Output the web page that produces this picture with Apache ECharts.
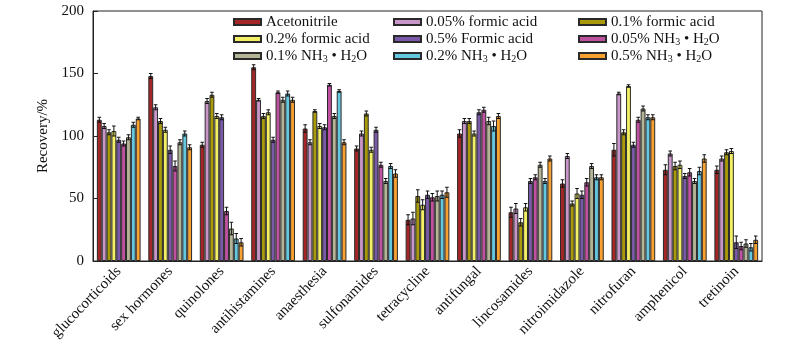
<!DOCTYPE html>
<html>
<head>
<meta charset="utf-8">
<script src="https://cdn.jsdelivr.net/npm/echarts@6/dist/echarts.min.js"></script>
<style>
  html, body { margin: 0; padding: 0; background: #fff; }
  #box { width: 800px; height: 351px; }
</style>
</head>
<body>
<div id="box"></div>
<script>
// categories on the x axis
var categories = ["glucocorticoids", "sex hormones", "quinolones", "antihistamines", "anaesthesia",
  "sulfonamides", "tetracycline", "antifungal", "lincosamides", "nitroimidazole", "nitrofuran",
  "amphenicol", "tretinoin"];

var seriesNames = ["Acetonitrile", "0.05% formic acid", "0.1% formic acid", "0.2% formic acid",
  "0.5% Formic acid", "0.05% NH3 • H2O", "0.1% NH3 • H2O", "0.2% NH3 • H2O", "0.5% NH3 • H2O"];

// recovery values (%)
var acetonitrile = [113, 148, 93, 155, 106, 90, 33, 102, 39, 62, 89, 73, 73];
var formic005 = [108, 123, 128, 129, 95, 102, 34, 112, 42, 84, 134, 86, 82];
var formic01 = [103, 112, 133, 116, 120, 118, 52, 112, 31, 46, 103, 76, 87];
var formic02 = [104, 105, 116, 119, 108, 89, 45, 102, 43, 54, 140, 77, 88];
var formic05 = [97, 89, 115, 97, 107, 105, 53, 119, 64, 53, 93, 68, 15];
var nh3005 = [94, 76, 40, 135, 141, 77, 51, 121, 67, 63, 113, 71, 12];
var nh301 = [99, 95, 26, 129, 116, 64, 52, 112, 77, 76, 122, 64, 14];
var nh302 = [109, 102, 18, 134, 136, 76, 53, 108, 64, 67, 115, 72, 11];
var nh305 = [114, 91, 15, 129, 95, 70, 55, 116, 82, 67, 115, 82, 17];

// error bars (+/-)
var errAcetonitrile = [2, 2, 2, 2, 3, 2, 4, 3, 4, 3, 5, 4, 3];
var errFormic005 = [2, 2, 2, 1, 2, 2, 5, 2, 4, 2, 1, 2, 2];
var errFormic01 = [2, 2, 2, 2, 1, 2, 5, 2, 3, 2, 2, 3, 2];
var errFormic02 = [4, 2, 2, 2, 2, 2, 4, 2, 3, 4, 1, 3, 2];
var errFormic05 = [2, 3, 2, 2, 2, 2, 3, 2, 2, 3, 2, 2, 5];
var errNh3005 = [2, 4, 3, 1, 1, 2, 3, 2, 2, 3, 2, 3, 3];
var errNh301 = [2, 2, 5, 2, 2, 2, 4, 3, 2, 2, 2, 2, 3];
var errNh302 = [2, 2, 4, 2, 1, 2, 3, 4, 2, 2, 2, 3, 3];
var errNh305 = [1, 2, 3, 2, 2, 3, 4, 2, 2, 2, 2, 3, 3];

var yTicks = [0, 50, 100, 150, 200];

var values = [acetonitrile, formic005, formic01, formic02, formic05, nh3005, nh301, nh302, nh305];
var errors = [errAcetonitrile, errFormic005, errFormic01, errFormic02, errFormic05, errNh3005, errNh301, errNh302, errNh305];
var colors = ["#a52626", "#c896c8", "#a89a0a", "#f4f066", "#7a5aa8", "#c050a0", "#b4b496", "#64c8e0", "#f8a030"];

var font = "Liberation Serif";
var gapRatio = 0.15;

var chart = echarts.init(document.getElementById("box"));

var barSeries = seriesNames.map(function (name, i) {
  return {
    name: name,
    type: "bar",
    data: values[i],
    barGap: 0,
    barCategoryGap: gapRatio * 100 + "%",
    itemStyle: { color: colors[i], borderColor: "#2a2a2a", borderWidth: 1 },
    z: 2
  };
});

// error bar rows: [category, value, error, seriesIndex]
var errRows = [];
values.forEach(function (arr, si) {
  arr.forEach(function (v, ci) {
    errRows.push([ci, v, errors[si][ci], si]);
  });
});

var errSeries = {
  type: "custom",
  name: "err",
  data: errRows,
  encode: { x: 0, y: 1 },
  z: 5,
  silent: true,
  renderItem: function (params, api) {
    var ci = api.value(0), v = api.value(1), e = api.value(2), si = api.value(3);
    var center = api.coord([ci, v]);
    var band = api.size([1, 0])[0];
    var groupW = band * (1 - gapRatio);
    var bw = groupW / seriesNames.length;
    var x = center[0] - groupW / 2 + (si + 0.5) * bw;
    var yt = api.coord([ci, v + e])[1];
    var yb = api.coord([ci, v - e])[1];
    var cap = 1.8;
    var st = { stroke: "#111", lineWidth: 1 };
    return {
      type: "group",
      children: [
        { type: "line", shape: { x1: x, y1: yt, x2: x, y2: yb }, style: st },
        { type: "line", shape: { x1: x - cap, y1: yt, x2: x + cap, y2: yt }, style: st },
        { type: "line", shape: { x1: x - cap, y1: yb, x2: x + cap, y2: yb }, style: st }
      ]
    };
  }
};

function legendName(name) {
  return name.replace("NH3", "NH{s|3}").replace("H2O", "H{s|2}O");
}

function makeLegend(left, names) {
  return {
    orient: "vertical",
    left: left,
    top: 14,
    padding: 0,
    data: names,
    icon: "rect",
    itemWidth: 27,
    itemHeight: 6,
    itemGap: 1,
    formatter: legendName,
    textStyle: {
      fontFamily: font,
      fontSize: 15,
      color: "#111",
      lineHeight: 16,
      rich: {
        s: { fontFamily: font, fontSize: 10, lineHeight: 10, verticalAlign: "bottom", color: "#111" }
      }
    }
  };
}

var option = {
  backgroundColor: "#fff",
  animation: false,
  legend: [
    makeLegend(233, [seriesNames[0], seriesNames[3], seriesNames[6]]),
    makeLegend(393, [seriesNames[1], seriesNames[4], seriesNames[7]]),
    makeLegend(578, [seriesNames[2], seriesNames[5], seriesNames[8]])
  ],
  grid: {
    left: 93,
    right: 38,
    top: 11,
    bottom: 90,
    show: true,
    borderColor: "#222",
    borderWidth: 1
  },
  xAxis: {
    type: "category",
    data: categories,
    axisLine: { lineStyle: { color: "#222" } },
    axisTick: { show: false },
    axisLabel: {
      rotate: 46,
      margin: 8,
      fontFamily: font,
      fontSize: 15,
      color: "#111",
      interval: 0
    }
  },
  yAxis: {
    type: "value",
    min: yTicks[0],
    max: yTicks[yTicks.length - 1],
    interval: yTicks[1] - yTicks[0],
    name: "Recovery/%",
    nameLocation: "middle",
    nameGap: 37,
    nameTextStyle: { fontFamily: font, fontSize: 15, color: "#111" },
    axisLine: { show: true, lineStyle: { color: "#222" } },
    axisTick: { show: true, inside: true, length: 5, lineStyle: { color: "#222" } },
    axisLabel: { fontFamily: font, fontSize: 15, color: "#111", margin: 9 },
    splitLine: { show: false }
  },
  series: barSeries.concat([errSeries])
};

chart.setOption(option);
</script>
</body>
</html>
